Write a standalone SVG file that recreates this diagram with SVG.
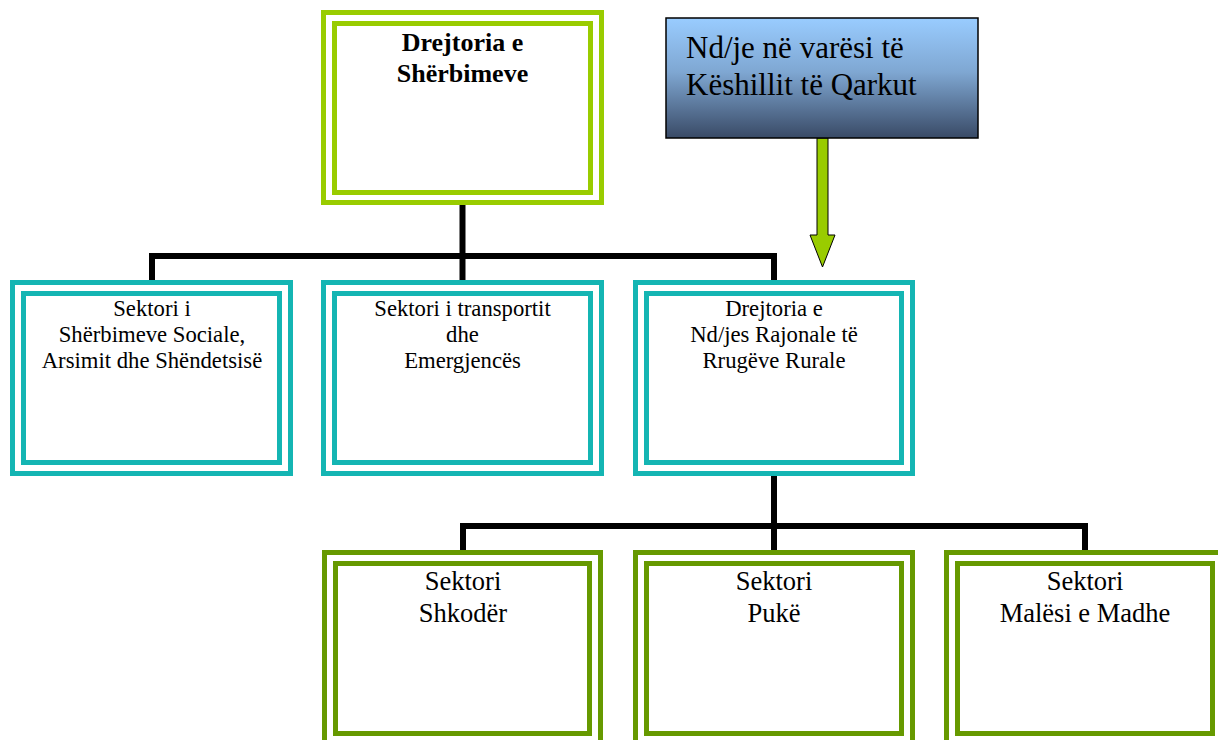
<svg xmlns="http://www.w3.org/2000/svg" width="1218" height="740" viewBox="0 0 1218 740">
  <defs>
    <linearGradient id="blueGrad" x1="0" y1="0" x2="0" y2="1">
      <stop offset="0" stop-color="#99CCFF"/>
      <stop offset="0.45" stop-color="#7FA7D2"/>
      <stop offset="1" stop-color="#394A66"/>
    </linearGradient>
    <style>
      .lime { fill: #fff; stroke: #99CC00; stroke-width: 5; }
      .teal { fill: #fff; stroke: #14B5B3; stroke-width: 5; }
      .olive { fill: #fff; stroke: #669900; stroke-width: 5; }
      .inner { fill: none; }
      .conn { fill: none; stroke: #000; stroke-width: 6; stroke-linejoin: miter; }
      text { fill: #000; text-anchor: middle; }
      .tb { font-size: 26px; font-weight: bold; }
      .tm { font-size: 22.7px; }
      .tl { font-size: 26.5px; }
      .tq { font-size: 31px; text-anchor: start; }
    </style>
  </defs>

  <g id="connectors">
    <path class="conn" d="M462.5 205 V256"/>
    <path class="conn" d="M152 280 V256 H774 V280"/>
    <path class="conn" d="M462.5 256 V280"/>
    <path class="conn" d="M774 476 V526"/>
    <path class="conn" d="M463 550 V526 H1085 V550"/>
    <path class="conn" d="M774 526 V550"/>
    <polygon points="817,138 828,138 828,235 835,235 822.5,267 810,235 817,235" fill="#99CC00" stroke="#000" stroke-width="1"/>
  </g>

  <g font-family="'Liberation Serif', 'Times New Roman', Times, serif">
  <g id="node-drejtoria-sherbimeve">
    <rect class="lime" x="323.5" y="12.5" width="278" height="190"/>
    <rect class="lime inner" x="334.5" y="23.5" width="256" height="169"/>
    <text class="tb" x="462.5" y="51">Drejtoria e</text>
    <text class="tb" x="462.5" y="82">Shërbimeve</text>
  </g>

  <g id="node-keshilli-qarkut">
    <rect x="666" y="18" width="312" height="120" fill="url(#blueGrad)" stroke="#000" stroke-width="1.5"/>
    <text class="tq" x="686" y="58">Nd/je në varësi të</text>
    <text class="tq" x="686" y="95">Këshillit të Qarkut</text>
  </g>

  <g id="node-sherbimeve-sociale">
    <rect class="teal" x="12.5" y="282.5" width="278" height="191"/>
    <rect class="teal inner" x="23.5" y="293.5" width="256" height="169"/>
    <text class="tm" x="152" y="316">Sektori i</text>
    <text class="tm" x="152" y="342">Shërbimeve Sociale,</text>
    <text class="tm" x="152" y="368">Arsimit dhe Shëndetsisë</text>
  </g>

  <g id="node-transportit">
    <rect class="teal" x="323.5" y="282.5" width="278" height="191"/>
    <rect class="teal inner" x="334.5" y="293.5" width="256" height="169"/>
    <text class="tm" x="462.5" y="316">Sektori i transportit</text>
    <text class="tm" x="462.5" y="342">dhe</text>
    <text class="tm" x="462.5" y="368">Emergjencës</text>
  </g>

  <g id="node-rrugeve-rurale">
    <rect class="teal" x="635.5" y="282.5" width="277" height="191"/>
    <rect class="teal inner" x="646.5" y="293.5" width="255" height="169"/>
    <text class="tm" x="774" y="316">Drejtoria e</text>
    <text class="tm" x="774" y="342">Nd/jes Rajonale të</text>
    <text class="tm" x="774" y="368">Rrugëve Rurale</text>
  </g>

  <g id="node-shkoder">
    <rect class="olive" x="324.5" y="552.5" width="276" height="192"/>
    <rect class="olive inner" x="335.5" y="563.5" width="254" height="170"/>
    <text class="tl" x="463" y="590">Sektori</text>
    <text class="tl" x="463" y="622">Shkodër</text>
  </g>

  <g id="node-puke">
    <rect class="olive" x="635.5" y="552.5" width="277" height="192"/>
    <rect class="olive inner" x="646.5" y="563.5" width="255" height="170"/>
    <text class="tl" x="774" y="590">Sektori</text>
    <text class="tl" x="774" y="622">Pukë</text>
  </g>

  <g id="node-malesi-madhe">
    <rect class="olive" x="946.5" y="552.5" width="277" height="192"/>
    <rect class="olive inner" x="957.5" y="563.5" width="255" height="170"/>
    <text class="tl" x="1085" y="590">Sektori</text>
    <text class="tl" x="1085" y="622">Malësi e Madhe</text>
  </g>
  </g>
</svg>
